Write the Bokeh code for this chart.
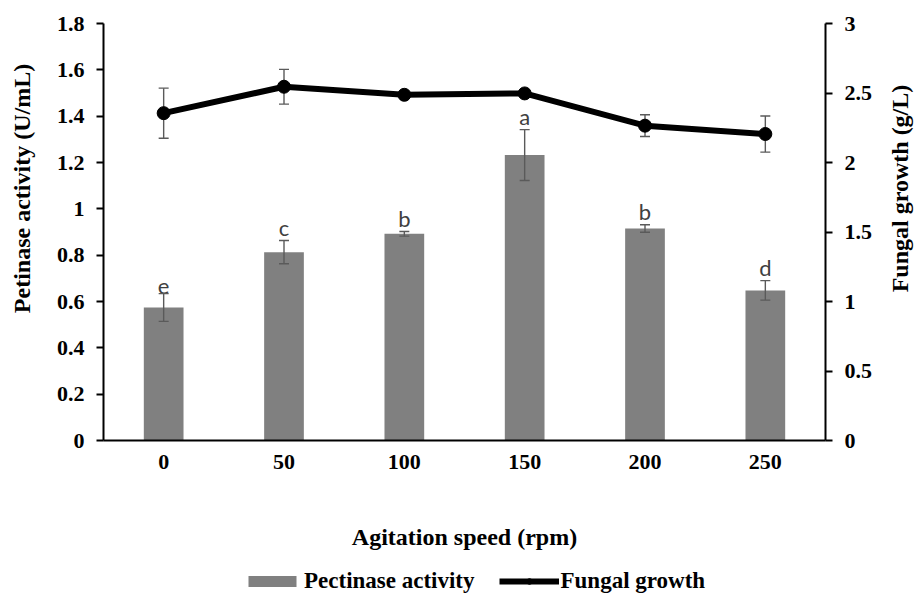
import math
from bokeh.plotting import figure
from bokeh.layouts import column, row
from bokeh.models import (Range1d, FactorRange, LinearAxis, Whisker, TeeHead,
                          ColumnDataSource, Legend, LegendItem, Label,
                          NumeralTickFormatter, SingleIntervalTicker)
from bokeh.core.properties import value
from bokeh.embed import file_html
from bokeh.resources import INLINE

# ---- data ----
speeds = ["0", "50", "100", "150", "200", "250"]
pectinase = [0.574, 0.813, 0.892, 1.232, 0.915, 0.648]
pectinase_err = [0.060, 0.050, 0.010, 0.110, 0.016, 0.042]
growth = [2.355, 2.545, 2.487, 2.497, 2.265, 2.205]
growth_err = [0.180, 0.125, 0.010, 0.010, 0.078, 0.130]
letters = ["e", "c", "b", "a", "b", "d"]

SERIF = "Liberation Serif"
BAR_COLOR = "#808080"
ERR_COLOR = "#5a5a5a"
TICK_FS = "22px"
LABEL_FS = "24px"

bar_src = ColumnDataSource(dict(
    x=speeds, y=pectinase,
    lo=[v - e for v, e in zip(pectinase, pectinase_err)],
    hi=[v + e for v, e in zip(pectinase, pectinase_err)],
    letter=letters,
))
line_src = ColumnDataSource(dict(
    x=speeds, y=growth,
    lo=[v - e for v, e in zip(growth, growth_err)],
    hi=[v + e for v, e in zip(growth, growth_err)],
))

p = figure(width=841, height=558, x_range=FactorRange(factors=speeds, range_padding=0),
           y_range=Range1d(0, 1.8), output_backend="svg", toolbar_location=None,
           min_border_left=63, min_border_right=56, min_border_top=23, min_border_bottom=118)
p.extra_y_ranges = {"growth": Range1d(0, 3)}
p.outline_line_color = None
p.xgrid.visible = False
p.ygrid.visible = False
p.background_fill_color = "white"
p.border_fill_color = "white"

bars = p.vbar(x="x", top="y", width=0.33, source=bar_src, fill_color=BAR_COLOR, line_color=None)

p.add_layout(Whisker(base="x", upper="hi", lower="lo", source=bar_src, dimension="height",
                     line_color=ERR_COLOR, line_width=1.4, level="annotation",
                     upper_head=TeeHead(size=10, line_color=ERR_COLOR, line_width=1.4),
                     lower_head=TeeHead(size=10, line_color=ERR_COLOR, line_width=1.4)))

p.text(x="x", y="hi", text="letter", source=bar_src, text_align="center",
       text_baseline="bottom", y_offset=0, text_font=value("Lato"),
       text_font_size="22px", text_color="#404040")

p.add_layout(Whisker(base="x", upper="hi", lower="lo", source=line_src, dimension="height",
                     y_range_name="growth", line_color=ERR_COLOR, line_width=1.4, level="underlay",
                     upper_head=TeeHead(size=10, line_color=ERR_COLOR, line_width=1.4),
                     lower_head=TeeHead(size=10, line_color=ERR_COLOR, line_width=1.4)))

ln = p.line(x="x", y="y", source=line_src, y_range_name="growth", line_color="black", line_width=6)
pts = p.scatter(x="x", y="y", source=line_src, y_range_name="growth", size=13,
                fill_color="black", line_color="black")

# left axis (its title is drawn in the strip on the left)
ax = p.yaxis[0]
ax.ticker = SingleIntervalTicker(interval=0.2, num_minor_ticks=0)
ax.formatter = NumeralTickFormatter(format="0.[0]")

# right axis (its title is drawn in the strip on the right so that it reads upwards)
rax = LinearAxis(y_range_name="growth", ticker=SingleIntervalTicker(interval=0.5, num_minor_ticks=0),
                 formatter=NumeralTickFormatter(format="0.[0]"))
p.add_layout(rax, "right")

for a in (ax, rax):
    a.axis_line_width = 2
    a.axis_line_color = "black"
    a.major_tick_out = 7
    a.major_tick_in = 0
    a.major_tick_line_width = 2
    a.minor_tick_out = 0
    a.minor_tick_in = 0
    a.major_label_text_font = SERIF
    a.major_label_text_font_style = "bold"
    a.major_label_text_font_size = TICK_FS
    a.major_label_text_color = "black"
    a.major_label_standoff = 12

xa = p.xaxis[0]
xa.axis_line_width = 2
xa.axis_line_color = "black"
xa.major_tick_out = 0
xa.major_tick_in = 0
xa.major_tick_line_color = None
xa.major_label_text_font = SERIF
xa.major_label_text_font_style = "bold"
xa.major_label_text_font_size = TICK_FS
xa.major_label_text_color = "black"
xa.major_label_standoff = 14
xa.axis_label = "Agitation speed (rpm)"
xa.axis_label_text_font = SERIF
xa.axis_label_text_font_style = "bold"
xa.axis_label_text_font_size = LABEL_FS
xa.axis_label_text_color = "black"
xa.axis_label_standoff = 52

# ---- legend strip below the chart (its glyphs reuse the data, kept out of view) ----
lg = figure(width=841, height=36, x_range=FactorRange(factors=speeds, range_padding=0),
            y_range=Range1d(10, 11), output_backend="svg", toolbar_location=None,
            min_border_left=0, min_border_right=0, min_border_top=0, min_border_bottom=0)
lg.axis.visible = False
lg.grid.visible = False
lg.outline_line_color = None
lg_bar = lg.vbar(x="x", top="y", width=0.33, source=bar_src, fill_color=BAR_COLOR, line_color=None)
lg_line = lg.line(x="x", y="y", source=line_src, line_color="black", line_width=6)
lg_pts = lg.scatter(x="x", y="y", source=line_src, size=13, fill_color="black", line_color="black")

legend = Legend(items=[LegendItem(label="Pectinase activity", renderers=[lg_bar]),
                       LegendItem(label="Fungal growth", renderers=[lg_line, lg_pts])],
                orientation="horizontal", location=(139, 0),
                label_text_font=SERIF, label_text_font_style="bold", label_text_font_size="23px",
                label_text_color="black", glyph_width=60, glyph_height=14, label_standoff=2,
                spacing=24, border_line_color=None, background_fill_alpha=0, padding=2, margin=0)
lg.add_layout(legend, "center")


def title_strip(text, x):
    s = figure(width=40, height=594, x_range=Range1d(0, 40), y_range=Range1d(0, 594),
               output_backend="svg", toolbar_location=None, x_axis_location=None,
               y_axis_location=None, min_border_left=0, min_border_right=0,
               min_border_top=0, min_border_bottom=0)
    s.frame_align = False
    s.grid.visible = False
    s.outline_line_color = None
    s.add_layout(Label(x=x, y=406, text=text, angle=math.pi / 2,
                       text_align="center", text_baseline="middle", text_font=SERIF,
                       text_font_style="bold", text_font_size=LABEL_FS, text_color="black"))
    return s


ls = title_strip("Petinase activity (U/mL)", 21)
rs = title_strip("Fungal growth (g/L)", 18)

layout = row(ls, column(p, lg, spacing=0), rs, spacing=0)
open("out.html", "w").write(file_html(layout, INLINE))
